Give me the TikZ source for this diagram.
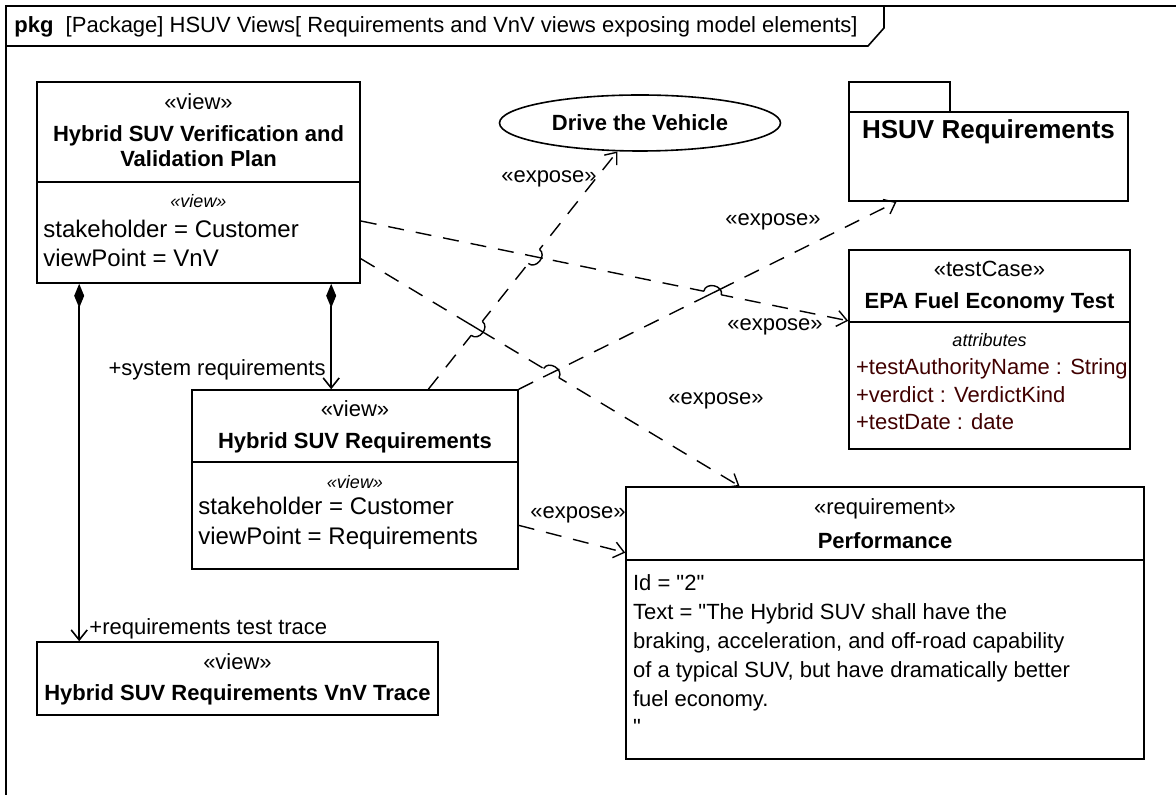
\documentclass[tikz,border=0pt]{standalone}
\usepackage{fontspec}
\setmainfont{Liberation Sans}[Ligatures=TeXOff]
\usetikzlibrary{arrows.meta,calc,fit,intersections,shapes.geometric}
\definecolor{attrcol}{RGB}{64,0,0}

\begin{document}
\begin{tikzpicture}[x=0.5pt,y=-0.5pt,
    box/.style ={draw, line width=0.8pt, inner sep=0pt},
    stereo/.style ={font=\fontsize{11}{13}\selectfont},
    title/.style ={font=\fontsize{11}{12.5}\selectfont\bfseries, align=center},
    tag/.style ={font=\fontsize{9}{11}\selectfont\itshape},
    slot/.style ={font=\fontsize{12}{14.5}\selectfont, align=left, anchor=west},
    expose/.style ={line width=0.7pt, dash pattern=on 8pt off 6pt, -{Straight Barb[length=5pt,width=8pt]}},
    compo/.style ={line width=0.8pt, {Diamond[length=12pt,width=5pt]}-{Straight Barb[length=5pt,width=8pt]}}]
   \useasboundingbox (0,0) rectangle (1176,795);

   % frame and its header tab
   \draw[line width=0.8pt] (6,795) -- (6,6) -- (1176,6);
   \draw[line width=0.8pt] (6,46) -- (868,46) -- (884,28) -- (884,6);
   \node[stereo, anchor=base west, inner sep=0] (head) at (14,33) {\textbf{pkg}\ \ [Package] HSUV Views[ Requirements and VnV views exposing model elements]};

   % views
   \node[box, fit={(37,82) (360,283)}] (plan) {};
   \draw[line width=0.8pt] ($(plan.north west)+(0,101)$) -- ($(plan.north east)+(0,101)$);
   \node[stereo] (plan-st) at (198.5,102) {«view»};
   \node[title] (plan-nm) at (198.5,146.5) {Hybrid SUV Verification and\\Validation Plan};
   \node[tag] (plan-tg) at (198.5,201) {«view»};
   \node[slot, inner sep=3pt] (plan-sl) at (37,243.5) {stakeholder = Customer\\viewPoint = VnV};

   \node[box, fit={(192,390) (518,569)}] (req) {};
   \draw[line width=0.8pt] ($(req.north west)+(0,73)$) -- ($(req.north east)+(0,73)$);
   \node[stereo] (req-st) at (355,409) {«view»};
   \node[title] (req-nm) at (355,443) {Hybrid SUV Requirements};
   \node[tag] (req-tg) at (355,482) {«view»};
   \node[slot, inner sep=3pt, font=\fontsize{12}{15}\selectfont] (req-sl) at (192,523) {stakeholder = Customer\\viewPoint = Requirements};

   \node[box, fit={(37,642) (438,715)}] (trace) {};
   \node[stereo] (trace-st) at (237.5,662) {«view»};
   \node[title] (trace-nm) at (237.5,695) {Hybrid SUV Requirements VnV Trace};

   % exposed elements
   \node[ellipse, draw, line width=0.8pt, minimum width=140.5pt, minimum height=28pt, inner sep=0pt,
         font=\fontsize{11}{13}\selectfont\bfseries] (drive) at (640,123) {Drive the Vehicle};

   \node[box, fit={(849,82) (950,112)}] (hsuv-tab) {};
   \node[box, fit={(849,112) (1128,201)}] (hsuv) {};
   \node[font=\fontsize{13}{15}\selectfont\bfseries] (hsuv-nm) at (988.5,132) {HSUV Requirements};

   \node[box, fit={(849,250) (1130,449)}] (tc) {};
   \draw[line width=0.8pt] ($(tc.north west)+(0,73)$) -- ($(tc.north east)+(0,73)$);
   \node[stereo] (tc-st) at (989.5,269) {«testCase»};
   \node[title] (tc-nm) at (989.5,303) {EPA Fuel Economy Test};
   \node[tag] (tc-tg) at (989.5,340) {attributes};
   \node[slot, text=attrcol, font=\fontsize{11}{13.75}\selectfont] (tc-sl) at (849,394.5) {+testAuthorityName : String\\+verdict : VerdictKind\\+testDate : date};

   \node[box, fit={(626,487) (1144,759)}] (perf) {};
   \draw[line width=0.8pt] ($(perf.north west)+(0,74)$) -- ($(perf.north east)+(0,74)$);
   \node[stereo] (perf-st) at (885,509) {«requirement»};
   \node[title] (perf-nm) at (885,541) {Performance};
   \node[slot, font=\fontsize{11}{14.4}\selectfont] (perf-sl) at (626,655) {Id = "2"\\Text = "The Hybrid SUV shall have the\\braking, acceleration, and off-road capability\\of a typical SUV, but have dramatically better\\fuel economy.\\"};

   % composition
   \draw[compo] ($(plan.south west)+(43,0)$) -- ($(trace.north west)+(43,0)$);
   \draw[compo] ($(plan.south west)+(295,0)$) -- ($(req.north west)+(140,0)$);
   \node[stereo, anchor=base east, inner sep=0] (sys-lbl) at (326,376) {+system requirements};
   \node[stereo, anchor=base west, inner sep=0] (trc-lbl) at (89,634) {+requirements test trace};

   % expose
   \draw[expose, name path=e1] ($(req.north west)!0.724!(req.north east)$) -- (drive);
   \draw[expose, name path=e2] (req.north east) -- ($(hsuv.south west)!0.172!(hsuv.south east)$);
   \draw[expose, name path=e3] ($(plan.north east)!0.69!(plan.south east)$) -- ($(tc.north west)!0.357!(tc.south west)$);
   \draw[expose, name path=e4] ($(plan.north east)!0.876!(plan.south east)$) -- ($(perf.north west)!0.22!(perf.north east)$);
   \draw[expose] ($(req.north east)!0.754!(req.south east)$) -- ($(perf.north west)!0.243!(perf.south west)$);
   \node[stereo] (e1-lbl) at (549,179) {«expose»};
   \node[stereo] (e2-lbl) at (773,222) {«expose»};
   \node[stereo] (e3-lbl) at (775,327) {«expose»};
   \node[stereo] (e4-lbl) at (716,401) {«expose»};
   \node[stereo] (e5-lbl) at (578,515) {«expose»};

   % line hops
   \path[name intersections={of=e1 and e3, by=h1}];
   \path[name intersections={of=e1 and e4, by=h2}];
   \path[name intersections={of=e3 and e2, by=h3}];
   \path[name intersections={of=e4 and e2, by=h4}];
   \foreach \h/\p/\q in {h1/e1/e3, h2/e1/e4, h3/e3/e2, h4/e4/e2} {
     \fill[white] (\h) circle (4.5pt);
     \path[name path=ring] (\h) circle (4.5pt);
     \draw[line width=0.7pt, name intersections={of=ring and \q, sort by=\q}] (intersection-1) -- (intersection-2);
     \draw[line width=0.7pt, name intersections={of=ring and \p, sort by=\p}] (intersection-1) to[bend left=90, looseness=1.4] (intersection-2);
   }
 \end{tikzpicture}
\end{document}
